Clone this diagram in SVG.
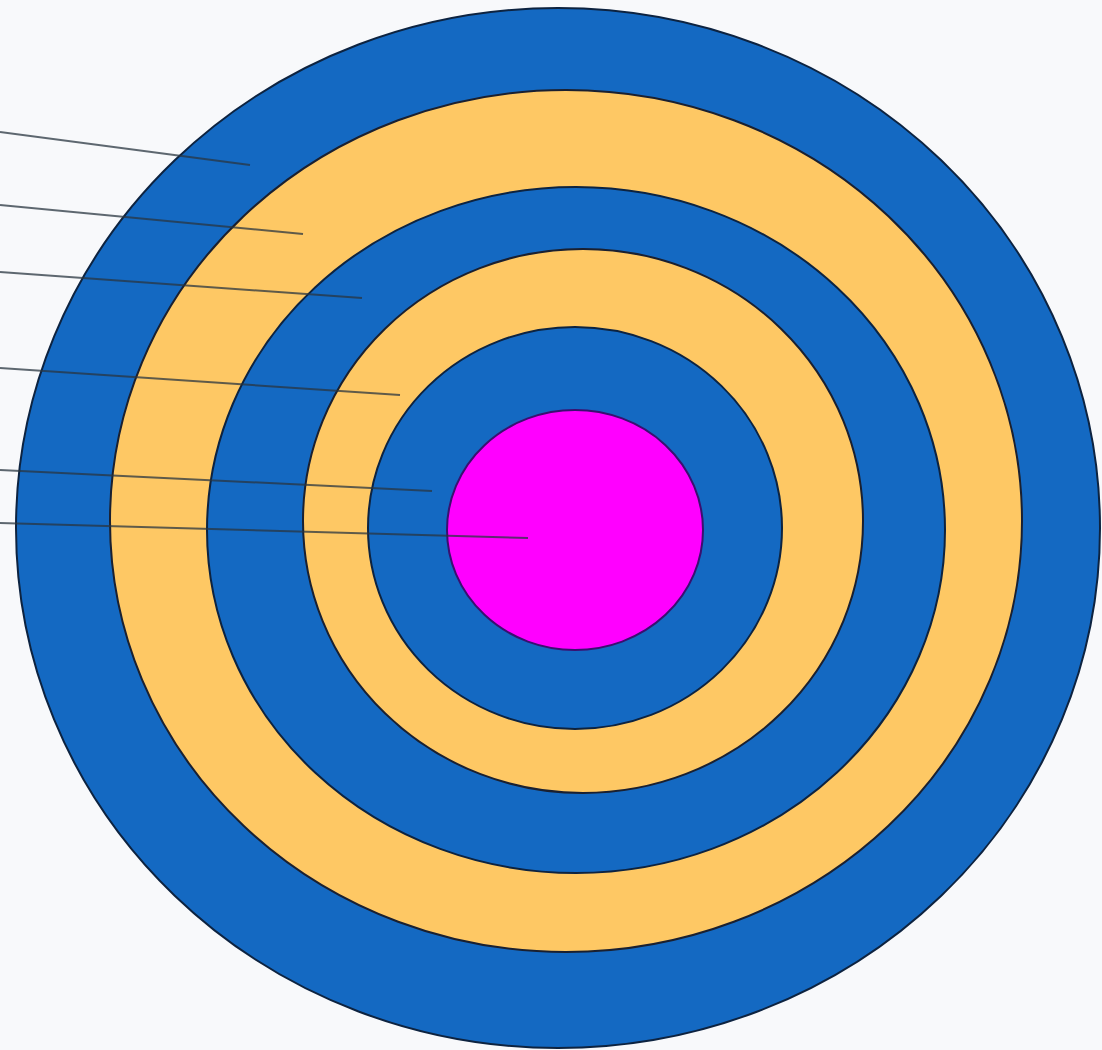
<svg xmlns="http://www.w3.org/2000/svg" width="1102" height="1050" viewBox="0 0 1102 1050">
<style>
.blue{fill:#1469c2;stroke:#0d2340;stroke-width:2}
.yel{fill:#fec864;stroke:#1a2030;stroke-width:2}
.mag{fill:#ff00ff;stroke:#3a1070;stroke-width:2}
.ln{stroke:#2a3540;stroke-width:2;stroke-opacity:0.75;fill:none}
</style>
<rect width="1102" height="1050" fill="#f8f9fb"/>
<g id="ring1"><ellipse class="blue" cx="558" cy="528" rx="542" ry="520"/></g>
<g id="ring2"><ellipse class="yel" cx="566" cy="521" rx="456" ry="431"/></g>
<g id="ring3"><ellipse class="blue" cx="576" cy="530" rx="369" ry="343"/></g>
<g id="ring4"><ellipse class="yel" cx="583" cy="521" rx="280" ry="272"/></g>
<g id="ring5"><ellipse class="blue" cx="575" cy="528" rx="207" ry="201"/></g>
<g id="center"><ellipse class="mag" cx="575" cy="530" rx="128" ry="120"/></g>
<g id="connectors">
<line class="ln" x1="0" y1="132" x2="250" y2="165"/>
<line class="ln" x1="0" y1="205" x2="303" y2="234"/>
<line class="ln" x1="0" y1="272" x2="362" y2="298"/>
<line class="ln" x1="0" y1="368" x2="400" y2="395"/>
<line class="ln" x1="0" y1="470" x2="432" y2="491"/>
<line class="ln" x1="0" y1="523" x2="528" y2="538"/>
</g>
</svg>
